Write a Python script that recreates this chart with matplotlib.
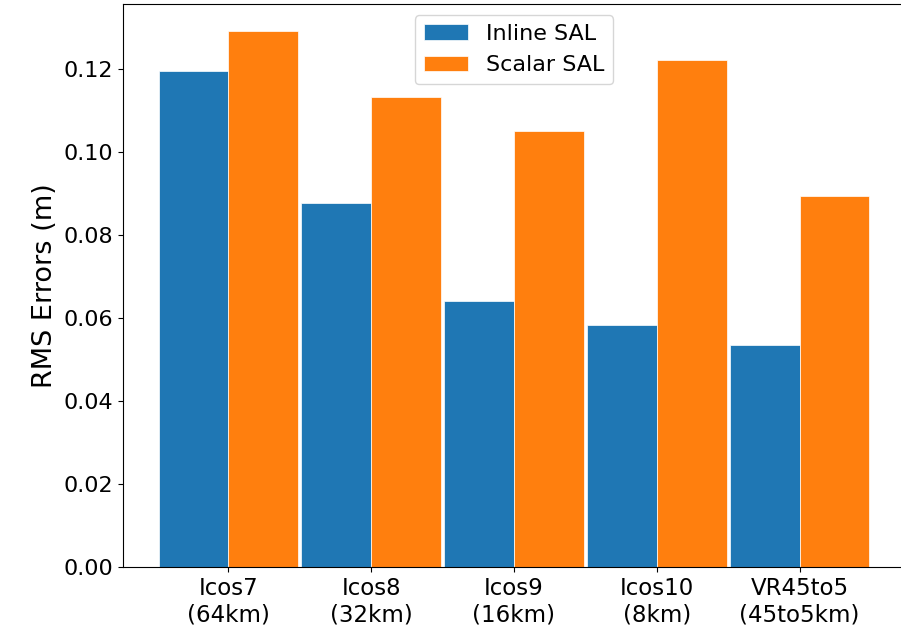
import numpy as np
from matplotlib import pyplot as plt

meshes = ["Icos7\n(64km)", "Icos8\n(32km)", "Icos9\n(16km)", "Icos10\n(8km)", "VR45to5\n(45to5km)"]
inline_sal = [0.1195, 0.0876, 0.0642, 0.0584, 0.0536]
scalar_sal = [0.1292, 0.1132, 0.1050, 0.1222, 0.0893]

ancho = 0.49
x = np.arange(len(meshes))

fig = plt.figure(figsize=(9.01, 6.28), dpi=100)
ax = fig.add_axes([123/901, 61/628, 782/901, 563/628])

ax.bar(x - ancho/2, inline_sal, ancho, color='#1f77b4', edgecolor='white', linewidth=0.5, label='Inline SAL')
ax.bar(x + ancho/2, scalar_sal, ancho, color='#ff7f0e', edgecolor='white', linewidth=0.5, label='Scalar SAL')

ax.set_xticks(x)
ax.set_xticklabels(meshes, fontsize=16.5)
ax.tick_params(axis='y', labelsize=16)
ax.set_yticks(np.arange(0, 0.13, 0.02))
ax.set_ylabel('RMS Errors (m)', fontsize=19.5)
ax.legend(loc='upper center', fontsize=16)

fig.savefig('out.png', dpi=100)
